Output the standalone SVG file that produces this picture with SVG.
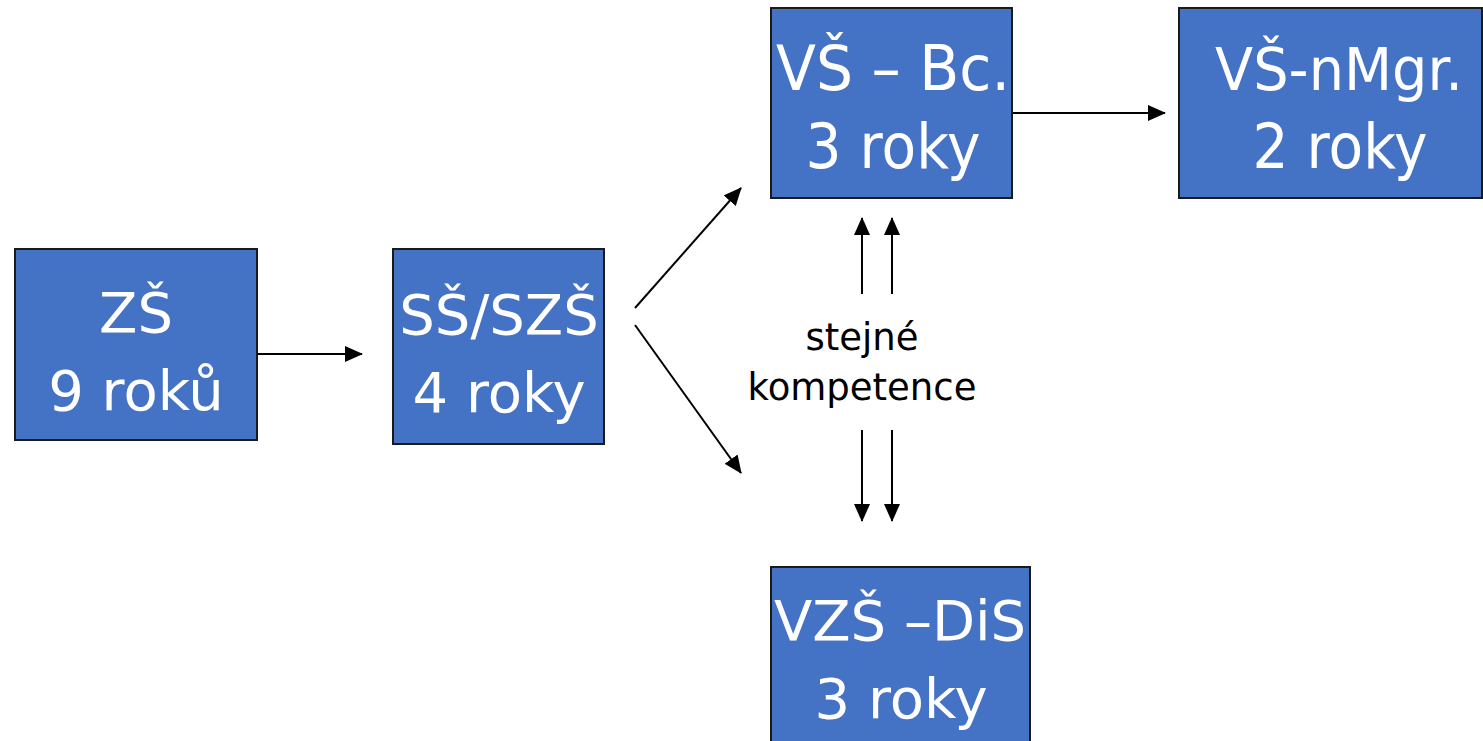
<svg xmlns="http://www.w3.org/2000/svg" width="1483" height="741" viewBox="0 0 1483 741">
<style>
.box{fill:#4472C4;stroke:#1a1a1a;stroke-width:2}
.bt{font-family:"DejaVu Sans","Verdana",sans-serif;font-size:56px;fill:#ffffff;text-anchor:middle}
.bt2{font-family:"DejaVu Sans","Verdana",sans-serif;font-size:62px;fill:#ffffff;text-anchor:middle}
.lbl{font-family:"DejaVu Sans","Verdana",sans-serif;font-size:37px;fill:#000000;text-anchor:middle}
.con{stroke:#000;stroke-width:2;fill:none;marker-end:url(#ah)}
</style>
<defs>
<marker id="ah" markerUnits="userSpaceOnUse" markerWidth="18" markerHeight="16" refX="17" refY="8" orient="auto">
<path d="M0,0 L18,8 L0,16 Z" fill="#000"/>
</marker>
</defs>
<rect width="1483" height="741" fill="#ffffff"/>
<g id="zs">
<rect class="box" x="15" y="249" width="242" height="191"/>
<text class="bt" x="136" y="332">ZŠ</text>
<text class="bt" x="136" y="410">9 roků</text>
</g>
<g id="ss">
<rect class="box" x="393" y="249" width="211" height="195"/>
<text class="bt" x="499" y="334">SŠ/SZŠ</text>
<text class="bt" x="499" y="412">4 roky</text>
</g>
<g id="vs-bc">
<rect class="box" x="771" y="8" width="241" height="190"/>
<text class="bt2" x="893" y="90" textLength="234" lengthAdjust="spacingAndGlyphs">VŠ – Bc.</text>
<text class="bt2" x="893" y="168" textLength="175" lengthAdjust="spacingAndGlyphs">3 roky</text>
</g>
<g id="vs-nmgr">
<rect class="box" x="1179" y="8" width="303" height="190"/>
<text class="bt2" x="1339" y="90" textLength="248" lengthAdjust="spacingAndGlyphs" style="font-size:58px">VŠ-nMgr.</text>
<text class="bt2" x="1340" y="168" textLength="175" lengthAdjust="spacingAndGlyphs">2 roky</text>
</g>
<g id="vzs-dis">
<rect class="box" x="771" y="567" width="259" height="190"/>
<text class="bt" x="900" y="640">VZŠ –DiS</text>
<text class="bt" x="901" y="718">3 roky</text>
</g>
<g id="connectors">
<line class="con" x1="258" y1="354" x2="362" y2="354"/>
<line class="con" x1="1013" y1="113" x2="1165" y2="113"/>
<line class="con" x1="635" y1="308" x2="741" y2="188"/>
<line class="con" x1="635" y1="325" x2="741" y2="473"/>
<line class="con" x1="862" y1="294" x2="862" y2="218"/>
<line class="con" x1="892" y1="294" x2="892" y2="218"/>
<line class="con" x1="862" y1="430" x2="862" y2="521"/>
<line class="con" x1="892" y1="430" x2="892" y2="521"/>
</g>
<g id="label">
<text class="lbl" x="862" y="350">stejné</text>
<text class="lbl" x="862" y="400">kompetence</text>
</g>
</svg>
